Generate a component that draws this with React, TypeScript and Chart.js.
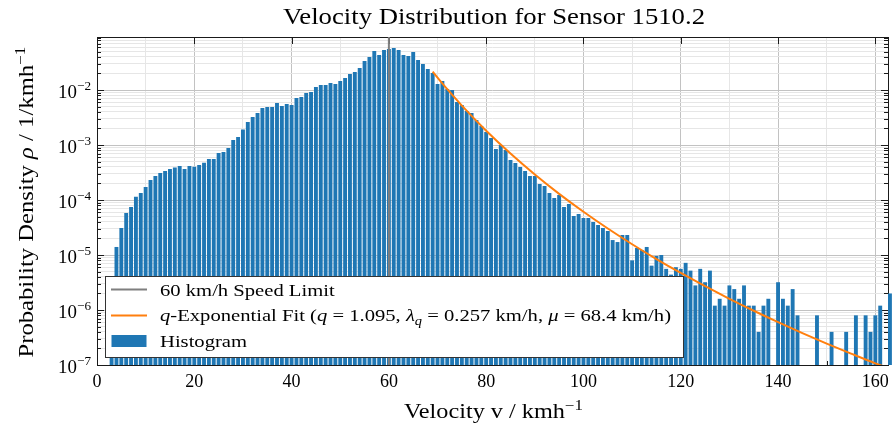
import React, { useEffect, useRef } from "react";
import { Chart, registerables } from "chart.js";

Chart.register(...registerables);

// ---------- data ----------
const VELOCITY_BINS = [
  3, 4, 5, 6, 7, 8, 9, 10, 11, 12, 13, 14, 15, 16, 17, 18, 19, 20, 21, 22,
  23, 24, 25, 26, 27, 28, 29, 30, 31, 32, 33, 34, 35, 36, 37, 38, 39, 40, 41, 42,
  43, 44, 45, 46, 47, 48, 49, 50, 51, 52, 53, 54, 55, 56, 57, 58, 59, 60, 61, 62,
  63, 64, 65, 66, 67, 68, 69, 70, 71, 72, 73, 74, 75, 76, 77, 78, 79, 80, 81, 82,
  83, 84, 85, 86, 87, 88, 89, 90, 91, 92, 93, 94, 95, 96, 97, 98, 99, 100, 101, 102,
  103, 104, 105, 106, 107, 108, 109, 110, 111, 112, 113, 114, 115, 116, 117, 118, 119, 120, 121, 122,
  123, 124, 125, 126, 127, 128, 129, 130, 131, 132, 133, 134, 135, 136, 137, 138, 139, 140, 141, 142,
  143, 144, 145, 146, 147, 148, 149, 150, 151, 152, 153, 154, 155, 156, 157, 158, 159, 160, 161, 162,
  163,
];

const DENSITY: (number | null)[] = [
  // 3 - 12
  2.0e-6, 1.40e-5, 3.09e-5, 5.81e-5, 7.46e-5, 1.14e-4, 1.34e-4, 1.72e-4, 2.31e-4, 2.73e-4,
  // 13 - 22
  3.10e-4, 3.37e-4, 3.66e-4, 3.89e-4, 4.15e-4, 3.66e-4, 4.15e-4, 4.04e-4, 4.33e-4, 4.76e-4,
  // 23 - 32
  5.56e-4, 5.56e-4, 7.16e-4, 7.46e-4, 8.81e-4, 1.23e-3, 1.40e-3, 1.91e-3, 2.62e-3, 3.23e-3,
  // 33 - 42
  3.82e-3, 4.71e-3, 4.91e-3, 4.91e-3, 5.81e-3, 5.12e-3, 5.56e-3, 5.33e-3, 7.16e-3, 7.46e-3,
  // 43 - 52
  8.81e-3, 9.20e-3, 1.135e-2, 1.23e-2, 1.23e-2, 1.34e-2, 1.29e-2, 1.46e-2, 1.65e-2, 1.95e-2,
  // 53 - 62
  2.12e-2, 2.51e-2, 3.37e-2, 3.98e-2, 5.12e-2, 4.33e-2, 5.33e-2, 5.56e-2, 5.81e-2, 5.33e-2,
  // 63 - 72
  4.33e-2, 4.15e-2, 4.91e-2, 3.51e-2, 2.97e-2, 2.41e-2, 2.04e-2, 1.29e-2, 1.46e-2, 1.04e-2,
  // 73 - 82
  1.00e-2, 6.05e-3, 5.33e-3, 4.15e-3, 3.82e-3, 2.85e-3, 2.21e-3, 1.72e-3, 1.34e-3, 8.45e-4,
  // 83 - 92
  1.00e-3, 8.11e-4, 5.33e-4, 4.71e-4, 3.98e-4, 3.37e-4, 2.73e-4, 2.73e-4, 1.95e-4, 1.80e-4,
  // 93 - 102
  1.34e-4, 1.09e-4, 1.23e-4, 7.46e-5, 8.45e-5, 5.12e-5, 5.56e-5, 4.71e-5, 4.71e-5, 3.98e-5,
  // 103 - 112
  3.51e-5, 3.10e-5, 2.73e-5, 1.87e-5, 1.72e-5, 2.31e-5, 2.31e-5, 8.0e-6, 1.34e-5, 1.23e-5,
  // 113 - 122
  1.40e-5, 6.4e-6, 9.6e-6, 1.0e-5, 5.6e-6, 4.4e-6, 6.0e-6, 5.6e-6, 7.2e-6, 5.2e-6,
  // 123 - 132
  2.8e-6, 5.6e-6, 3.2e-6, 5.2e-6, 1.2e-6, 1.6e-6, 1.2e-6, 2.8e-6, 2.4e-6, 1.6e-6,
  // 133 - 142
  2.8e-6, 1.2e-6, 1.2e-6, 4.0e-7, 1.2e-6, 1.6e-6, null, 3.2e-6, 1.6e-6, 1.2e-6,
  // 143 - 152
  2.4e-6, 8.0e-7, null, null, null, 8.0e-7, null, null, 4.0e-7, null,
  // 153 - 162
  null, 4.0e-7, null, 8.0e-7, null, 8.0e-7, 4.0e-7, 8.0e-7, 1.2e-6, null,
  // 163
  2.0e-6,
];

const FIT_VELOCITY = [69, 70, 72, 75, 80, 85, 90, 95, 100, 105, 110, 115, 120, 125, 130, 135, 140, 145, 150, 155, 160, 162];
const FIT_DENSITY = [
  2.15e-2, 1.68e-2, 1.035e-2, 5.21e-3, 1.82e-3, 7.0e-4, 2.91e-4, 1.294e-4, 6.11e-5, 3.03e-5,
  1.57e-5, 8.45e-6, 4.71e-6, 2.71e-6, 1.60e-6, 9.69e-7, 6.01e-7, 3.80e-7, 2.45e-7, 1.61e-7,
  1.07e-7, 9.2e-8,
];

const SPEED_LIMIT = 60;
const X_MAJOR_TICKS = [0, 20, 40, 60, 80, 100, 120, 140, 160];
const X_MINOR_TICKS = [10, 30, 50, 70, 90, 110, 130, 150];
const Y_DECADES = [-7, -6, -5, -4, -3, -2];
const X_MIN = 0;
const X_MAX = 162.6;
const Y_MIN = 1e-7;
const Y_MAX = 0.092;

const TITLE = "Velocity Distribution for Sensor 1510.2";
const LEGEND_LIMIT = "60 km/h Speed Limit";
const LEGEND_HIST = "Histogram";

// ---------- styling ----------
const SERIF = '"Liberation Serif", "DejaVu Serif", serif';
const BAR_COLOR = "#1f77b4";
const FIT_COLOR = "#ff7f0e";
const LIMIT_COLOR = "#7f7f7f";
const MAJOR_GRID = "#c2c2c2";
const MINOR_GRID = "#e6e6e6";
const AXIS_COLOR = "#1a1a1a";

type Run = { t: string; it?: boolean; sup?: boolean; sub?: boolean };

function runFont(r: Run, size: number) {
  const s = r.sup || r.sub ? size * 0.7 : size;
  return `${r.it ? "italic " : ""}${s}px ${SERIF}`;
}

function measureRuns(ctx: CanvasRenderingContext2D, runs: Run[], size: number) {
  let w = 0;
  for (const r of runs) {
    ctx.font = runFont(r, size);
    w += ctx.measureText(r.t).width;
  }
  return w;
}

function drawRuns(
  ctx: CanvasRenderingContext2D,
  runs: Run[],
  x: number,
  y: number,
  size: number,
  stretch: number,
  align: "left" | "center" | "right"
) {
  const w = measureRuns(ctx, runs, size) * stretch;
  const start = align === "left" ? 0 : align === "center" ? -w / 2 : -w;
  ctx.save();
  ctx.translate(x + start, y);
  ctx.scale(stretch, 1);
  ctx.textAlign = "left";
  ctx.textBaseline = "alphabetic";
  let cx = 0;
  for (const r of runs) {
    ctx.font = runFont(r, size);
    const dy = r.sup ? -size * 0.42 : r.sub ? size * 0.22 : 0;
    ctx.fillText(r.t, cx, dy);
    cx += ctx.measureText(r.t).width;
  }
  ctx.restore();
}

function stretchFor(ctx: CanvasRenderingContext2D, runs: Run[], size: number, target: number) {
  return target / measureRuns(ctx, runs, size);
}

const isDecade = (v: number) => {
  const l = Math.log10(v);
  return Math.abs(l - Math.round(l)) < 1e-6;
};

const axesPlugin = {
  id: "axesFrame",
  beforeDatasetsDraw(chart: any) {
    const { ctx, chartArea: a, scales } = chart;
    const xs = scales.x;
    const ys = scales.y;
    ctx.save();
    ctx.strokeStyle = AXIS_COLOR;
    ctx.lineWidth = 1;
    ctx.beginPath();
    for (const v of X_MAJOR_TICKS) {
      const px = Math.round(xs.getPixelForValue(v)) + 0.5;
      ctx.moveTo(px, a.top);
      ctx.lineTo(px, a.top + 7);
      ctx.moveTo(px, a.bottom);
      ctx.lineTo(px, a.bottom - 7);
    }
    for (const v of X_MINOR_TICKS) {
      const px = Math.round(xs.getPixelForValue(v)) + 0.5;
      ctx.moveTo(px, a.bottom);
      ctx.lineTo(px, a.bottom - 4);
    }
    for (const e of Y_DECADES) {
      for (let m = 1; m <= 9; m++) {
        const v = m * Math.pow(10, e);
        if (v > Y_MAX) continue;
        const py = Math.round(ys.getPixelForValue(v)) + 0.5;
        const len = m === 1 ? 7 : 4;
        ctx.moveTo(a.left, py);
        ctx.lineTo(a.left + len, py);
        ctx.moveTo(a.right, py);
        ctx.lineTo(a.right - len, py);
      }
    }
    ctx.stroke();
    ctx.strokeRect(a.left + 0.5, a.top + 0.5, a.right - a.left, a.bottom - a.top);
    ctx.restore();
  },
  afterDraw(chart: any) {
    const { ctx, chartArea: a, scales } = chart;
    const xs = scales.x;
    const ys = scales.y;
    ctx.save();
    ctx.fillStyle = "#000";

    // title
    const titleRuns: Run[] = [{ t: TITLE }];
    drawRuns(ctx, titleRuns, 494, 24, 23, stretchFor(ctx, titleRuns, 23, 422), "center");

    // x label
    const xRuns: Run[] = [{ t: "Velocity v / kmh" }, { t: "\u22121", sup: true }];
    drawRuns(ctx, xRuns, 493.5, 418, 20, stretchFor(ctx, xRuns, 20, 179), "center");

    // y label
    const yRuns: Run[] = [
      { t: "Probability Density " },
      { t: "\u03c1", it: true },
      { t: " / 1/kmh" },
      { t: "\u22121", sup: true },
    ];
    ctx.save();
    ctx.translate(33, 202);
    ctx.rotate(-Math.PI / 2);
    drawRuns(ctx, yRuns, 0, 0, 20, stretchFor(ctx, yRuns, 20, 311), "center");
    ctx.restore();

    // x tick labels
    for (const v of X_MAJOR_TICKS) {
      drawRuns(ctx, [{ t: String(v) }], xs.getPixelForValue(v), 387, 18, 1, "center");
    }
    // y tick labels
    for (const e of Y_DECADES) {
      const py = ys.getPixelForValue(Math.pow(10, e));
      const runs: Run[] = [{ t: "10" }, { t: "\u2212" + String(-e), sup: true }];
      drawRuns(ctx, runs, 91, py + 8, 18, 1.05, "right");
    }

    // legend
    const lx = 105.5, ly = 276.5, lw = 578, lh = 81;
    ctx.fillStyle = "#ffffff";
    ctx.fillRect(lx, ly, lw, lh);
    ctx.strokeStyle = "#333333";
    ctx.lineWidth = 1;
    ctx.strokeRect(lx, ly, lw, lh);

    const fitRuns: Run[] = [
      { t: "q", it: true },
      { t: "-Exponential Fit (" },
      { t: "q", it: true },
      { t: " = 1.095, " },
      { t: "\u03bb", it: true },
      { t: "q", it: true, sub: true },
      { t: " = 0.257 km/h, " },
      { t: "\u03bc", it: true },
      { t: " = 68.4 km/h)" },
    ];
    const ls = 16.5;
    const lk = stretchFor(ctx, fitRuns, ls, 511);

    ctx.lineWidth = 2;
    ctx.strokeStyle = LIMIT_COLOR;
    ctx.beginPath();
    ctx.moveTo(111, 289.5);
    ctx.lineTo(147, 289.5);
    ctx.stroke();
    ctx.strokeStyle = FIT_COLOR;
    ctx.beginPath();
    ctx.moveTo(111, 315.5);
    ctx.lineTo(147, 315.5);
    ctx.stroke();
    ctx.fillStyle = BAR_COLOR;
    ctx.fillRect(111.5, 335, 35, 12);

    ctx.fillStyle = "#000";
    drawRuns(ctx, [{ t: LEGEND_LIMIT }], 160, 295.5, ls, lk, "left");
    drawRuns(ctx, fitRuns, 160, 321, ls, lk, "left");
    drawRuns(ctx, [{ t: LEGEND_HIST }], 160, 346.5, ls, lk, "left");

    ctx.restore();
  },
};

export default function App() {
  const canvasRef = useRef<HTMLCanvasElement | null>(null);

  useEffect(() => {
    document.body.style.margin = "0";
    const canvas = canvasRef.current;
    if (!canvas) return;

    const barData = VELOCITY_BINS.map((v, i) => ({ x: v, y: DENSITY[i] })).filter(
      (p) => p.y !== null
    ) as { x: number; y: number }[];
    const fitData = FIT_VELOCITY.map((v, i) => ({ x: v, y: FIT_DENSITY[i] }));
    const limitData = [
      { x: SPEED_LIMIT, y: Y_MIN },
      { x: SPEED_LIMIT, y: Y_MAX },
    ];

    const chart = new Chart(canvas, {
      type: "bar",
      data: {
        datasets: [
          {
            type: "line",
            label: "fit",
            data: fitData,
            borderColor: FIT_COLOR,
            borderWidth: 2,
            pointRadius: 0,
            fill: false,
            cubicInterpolationMode: "monotone",
            order: 1,
          } as any,
          {
            type: "line",
            label: "limit",
            data: limitData,
            borderColor: LIMIT_COLOR,
            borderWidth: 2,
            pointRadius: 0,
            fill: false,
            order: 2,
          } as any,
          {
            type: "bar",
            label: "Histogram",
            data: barData,
            backgroundColor: BAR_COLOR,
            borderWidth: 0,
            barPercentage: 0.8,
            categoryPercentage: 1,
            clip: false,
            order: 3,
          } as any,
        ],
      },
      options: {
        responsive: false,
        animation: false,
        events: [],
        layout: { padding: { left: 0, top: 37, right: 6, bottom: 0 } },
        plugins: {
          legend: { display: false },
          title: { display: false },
          tooltip: { enabled: false },
        },
        scales: {
          x: {
            type: "linear",
            min: X_MIN,
            max: X_MAX,
            offset: false,
            grid: {
              offset: false,
              drawTicks: false,
              lineWidth: 1,
              color: (c: any) =>
                c.tick && c.tick.value % 20 === 0 ? MAJOR_GRID : MINOR_GRID,
            },
            border: { display: false },
            ticks: { display: false },
            afterBuildTicks: (s: any) => {
              s.ticks = [...X_MAJOR_TICKS, ...X_MINOR_TICKS]
                .sort((a, b) => a - b)
                .map((v) => ({ value: v }));
            },
            afterFit: (s: any) => {
              s.height = 65;
            },
          },
          y: {
            type: "logarithmic",
            min: Y_MIN,
            max: Y_MAX,
            grid: {
              drawTicks: false,
              lineWidth: 1,
              color: (c: any) => (c.tick && isDecade(c.tick.value) ? MAJOR_GRID : MINOR_GRID),
            },
            border: { display: false },
            ticks: { display: false },
            afterBuildTicks: (s: any) => {
              const t: { value: number }[] = [];
              for (const e of Y_DECADES) {
                for (let m = 1; m <= 9; m++) {
                  const v = m * Math.pow(10, e);
                  if (v <= Y_MAX) t.push({ value: v });
                }
              }
              s.ticks = t;
            },
            afterFit: (s: any) => {
              s.width = 97;
            },
          },
        },
      } as any,
      plugins: [axesPlugin],
    });

    return () => {
      chart.destroy();
    };
  }, []);

  return (
    <div style={{ width: 894, height: 430, background: "#fff" }}>
      <canvas ref={canvasRef} width={894} height={430} />
    </div>
  );
}
